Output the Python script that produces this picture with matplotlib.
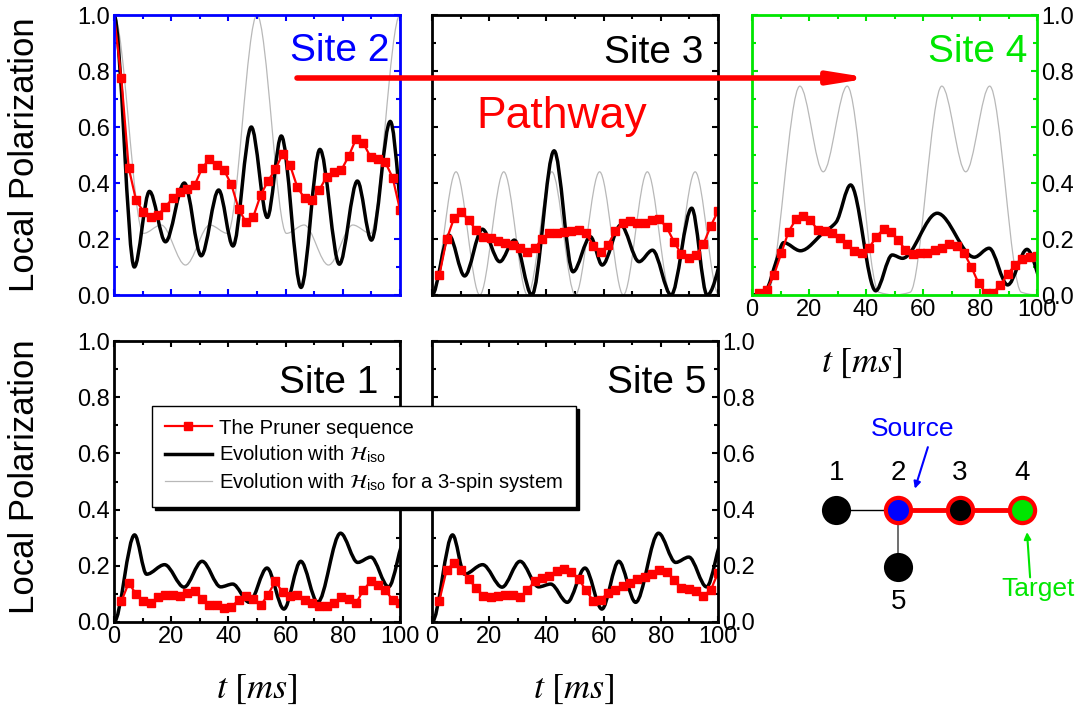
import numpy as np
import matplotlib
matplotlib.use('Agg')
import matplotlib.pyplot as plt
from matplotlib.path import Path
from matplotlib.patches import PathPatch, FancyArrowPatch
from matplotlib.lines import Line2D

plt.rcParams['font.family'] = ['Liberation Sans', 'DejaVu Sans']
plt.rcParams['mathtext.fontset'] = 'stix'

# ---- data ----
# Pruner sequence: 39 points, t = k*100/39
t_red = np.arange(1, 40) * 100 / 39
site2_red = [.774, .455, .339, .298, .277, .286, .315, .345, .369, .377, .393, .452, .486,
             .464, .446, .395, .307, .260, .280, .357, .407, .449, .504, .464, .385, .345,
             .339, .375, .423, .440, .446, .496, .557, .542, .492, .485, .474, .419, .304]
site3_red = [.071, .199, .274, .295, .268, .232, .208, .202, .194, .187, .179, .167, .155,
             .167, .199, .220, .223, .224, .229, .232, .220, .176, .152, .179, .229, .258,
             .264, .256, .256, .268, .270, .242, .190, .146, .133, .143, .181, .246, .300]
site4_red = [.006, .018, .071, .149, .226, .270, .282, .267, .232, .230, .220, .205, .181,
             .158, .149, .167, .208, .235, .226, .196, .161, .146, .149, .151, .161, .167,
             .181, .176, .151, .101, .042, .008, .008, .036, .075, .107, .129, .137, .139]
site1_red = [.073, .139, .100, .073, .067, .089, .097, .096, .094, .103, .109, .083, .062,
             .062, .050, .053, .079, .094, .082, .059, .097, .145, .105, .091, .097, .079,
             .067, .058, .056, .067, .089, .082, .067, .113, .145, .133, .115, .077, .067]
site5_red = [.076, .186, .210, .184, .153, .121, .094, .088, .091, .097, .097, .089, .113,
             .145, .157, .163, .181, .189, .177, .153, .113, .074, .080, .103, .115, .127,
             .139, .153, .160, .172, .184, .178, .151, .121, .118, .109, .094, .113, .175]

# Evolution with H_iso: turning points (t, value)
site2_black_t = [0, 7.1, 12.4, 18, 24.6, 30.5, 36.6, 41.6, 48, 53.6, 58.5, 65.4, 72, 78.8, 85.1, 90, 96.6, 102.5]
site2_black_y = [1.0, .10, .37, .19, .40, .14, .375, .175, .60, .277, .568, .027, .52, .11, .407, .196, .62, .15]
site3_black_t = [0, 5.9, 11.4, 17.6, 23.7, 28.8, 34.9, 42.7, 49.3, 55.4, 59.5, 66, 72.4, 77.1, 83.6, 90.8, 96.2, 107]
site3_black_y = [0, .214, .068, .235, .119, .196, 0, .515, .083, .208, .107, .25, .119, .16, 0, .31, 0, .32]
site4_black_t = [0, 5, 8.5, 11.1, 17, 25, 29.5, 34.6, 43.4, 49.2, 52.8, 65, 78, 83.2, 89.7, 96.5, 103]
site4_black_y = [0, .02, .12, .187, .158, .222, .26, .393, .015, .143, .131, .292, .135, .167, .036, .163, .02]
site15_black_t = [0, 7.2, 11.4, 17.7, 24.5, 30.8, 37.3, 41.5, 47.3, 53.5, 59.4, 65.3, 71.2, 79.2, 85.2, 89.8, 96, 102]
site15_black_y = [0, .31, .17, .204, .124, .216, .125, .135, .07, .192, .046, .216, .07, .316, .212, .231, .125, .30]

# Evolution with H_iso for a 3-spin system
site2_gray_t = [0, 10.3, 16.5, 25, 33.5, 39.7, 50, 60.3, 66.5, 75, 83.5, 89.7, 100, 110.3]
site2_gray_y = [1.0, .22, .25, .107, .25, .22, 1.0, .22, .25, .107, .25, .22, 1.0, .22]
site3_gray_t = [0, 8.4, 16.7, 25.1, 33.4, 41.9, 50.1, 58.6, 66.9, 75.3, 83.6, 92, 100.3]
site3_gray_y = [0, .44, 0, .44, 0, .44, 0, .44, 0, .44, 0, .44, 0]
site4_gray_t = [0, 5.5, 16.8, 25, 33.4, 44.5, 50, 55.5, 66.6, 75, 83.4, 94.5, 100]
site4_gray_y = [0, .01, .746, .44, .746, .01, 0, .01, .746, .44, .746, .01, 0]

x_ticks = [0, 20, 40, 60, 80, 100]
y_ticks = [0.0, 0.2, 0.4, 0.6, 0.8, 1.0]

W, H = 1088, 707
fig = plt.figure(figsize=(W / 100, H / 100), dpi=100)


def px_axes(l, t, r, b):
    return fig.add_axes([l / W, 1 - b / H, (r - l) / W, (b - t) / H])


def smooth_path(ts, ys):
    # monotone cubic through the read turning points, as bezier segments
    ts = np.asarray(ts, float)
    ys = np.asarray(ys, float)
    h = np.diff(ts)
    d = np.diff(ys) / h
    m = np.zeros_like(ys)
    for k in range(1, len(ys) - 1):
        if d[k - 1] * d[k] > 0:
            w1 = 2 * h[k] + h[k - 1]
            w2 = h[k] + 2 * h[k - 1]
            m[k] = (w1 + w2) / (w1 / d[k - 1] + w2 / d[k])
    verts = [(ts[0], ys[0])]
    codes = [Path.MOVETO]
    for k in range(len(h)):
        verts += [(ts[k] + h[k] / 3, ys[k] + m[k] * h[k] / 3),
                  (ts[k + 1] - h[k] / 3, ys[k + 1] - m[k + 1] * h[k] / 3),
                  (ts[k + 1], ys[k + 1])]
        codes += [Path.CURVE4] * 3
    return Path(verts, codes)


def curve(ax, ts, ys, color, lw, z):
    ax.add_patch(PathPatch(smooth_path(ts, ys), facecolor='none', edgecolor=color,
                           lw=lw, zorder=z, capstyle='round', joinstyle='round'))


def setup(ax, color, left=False, right=False, bottom=False):
    ax.set_xlim(0, 100)
    ax.set_ylim(0, 1.0)
    ax.set_xticks(x_ticks)
    ax.set_xticks(np.arange(10, 100, 20), minor=True)
    ax.set_yticks(y_ticks)
    ax.set_yticks(np.arange(0.1, 1.0, 0.2), minor=True)
    ax.set_yticklabels(['%.1f' % v for v in y_ticks])
    for s in ax.spines.values():
        s.set_color(color)
        s.set_linewidth(2.0)
        s.set_zorder(6)
    ax.tick_params(which='both', direction='in', top=True, right=True, color=color,
                   width=1.5, labelsize=17, pad=3, labelleft=left, labelright=right,
                   labelbottom=bottom)
    ax.tick_params(which='major', length=4.5)
    ax.tick_params(which='minor', length=2.8)


RED = '#ff0000'
GRAY = '#b8b8b8'
LIME = '#00e600'

ax2 = px_axes(114, 15, 400, 295)
ax3 = px_axes(432, 15, 718, 295)
ax4 = px_axes(752, 15, 1037, 295)
ax1 = px_axes(114, 341, 400, 622)
ax5 = px_axes(432, 341, 718, 622)

setup(ax2, 'blue', left=True)
setup(ax3, 'black')
setup(ax4, LIME, right=True, bottom=True)
setup(ax1, 'black', left=True, bottom=True)
setup(ax5, 'black', right=True, bottom=True)

curve(ax2, site2_gray_t, site2_gray_y, GRAY, 0.9, 2)
curve(ax3, site3_gray_t, site3_gray_y, GRAY, 0.9, 2)
curve(ax4, site4_gray_t, site4_gray_y, GRAY, 0.9, 2)

curve(ax2, site2_black_t, site2_black_y, 'black', 2.5, 3)
curve(ax3, site3_black_t, site3_black_y, 'black', 2.5, 3)
curve(ax4, site4_black_t, site4_black_y, 'black', 2.5, 3)
curve(ax1, site15_black_t, site15_black_y, 'black', 2.5, 3)
curve(ax5, site15_black_t, site15_black_y, 'black', 2.5, 3)

red_kw = dict(color=RED, lw=1.6, marker='s', ms=5.4, mec=RED, zorder=4)
ax2.plot(np.r_[0, t_red], np.r_[1.0, site2_red], markevery=slice(1, None), **red_kw)
ax3.plot(t_red, site3_red, **red_kw)
ax4.plot(t_red, site4_red, **red_kw)
ax1.plot(t_red, site1_red, **red_kw)
ax5.plot(t_red, site5_red, **red_kw)

site_kw = dict(fontsize=28, ha='right', va='baseline')
ax2.text(0.965, 0.836, 'Site 2', color='blue', transform=ax2.transAxes, **site_kw)
ax3.text(0.948, 0.829, 'Site 3', color='black', transform=ax3.transAxes, **site_kw)
ax4.text(0.965, 0.832, 'Site 4', color=LIME, transform=ax4.transAxes, **site_kw)
ax1.text(0.923, 0.815, 'Site 1', color='black', transform=ax1.transAxes, **site_kw)
ax5.text(0.958, 0.815, 'Site 5', color='black', transform=ax5.transAxes, **site_kw)

for y in (155, 477):
    fig.text(25 / W, 1 - y / H, 'Local Polarization', rotation=90, fontsize=25,
             ha='center', va='center')
for x, y in ((862, 363), (257, 688), (574, 688)):
    fig.text(x / W, 1 - y / H, r'$t\ [ms]$', fontsize=26, ha='center', va='center')

fig.text(562 / W, 1 - 128 / H, 'Pathway', color=RED, fontsize=32, ha='center',
         va='baseline')
arrow = FancyArrowPatch((297 / W, 1 - 78 / H), (871 / W, 1 - 78 / H),
                        transform=fig.transFigure, color=RED, lw=4,
                        arrowstyle='-|>,head_length=1.0,head_width=0.16',
                        mutation_scale=22, shrinkA=0, shrinkB=0, capstyle='round',
                        zorder=20)
fig.add_artist(arrow)

handles = [Line2D([], [], color=RED, lw=1.6, marker='s', ms=5.4),
           Line2D([], [], color='black', lw=2.5),
           Line2D([], [], color=GRAY, lw=0.9)]
labels = ['The Pruner sequence',
          r'Evolution with $\mathcal{H}_{\mathregular{iso}}$',
          r'Evolution with $\mathcal{H}_{\mathregular{iso}}$ for a 3-spin system']
leg = fig.legend(handles, labels, loc='upper left', bbox_to_anchor=(152 / W, 1 - 406 / H),
                 fontsize=14.6, frameon=True, fancybox=False, borderpad=0.62,
                 labelspacing=0.3, handlelength=2.35, handletextpad=0.35,
                 borderaxespad=0, shadow={'color': 'black', 'alpha': 1})
leg.get_frame().set_edgecolor('black')
leg.get_frame().set_linewidth(1.0)
leg.set_zorder(15)

# ---- spin chain sketch ----
dax = px_axes(799, 405, 1084, 622)
dax.set_xlim(-0.6, 4.0)
dax.set_ylim(-1.8, 1.7)
dax.axis('off')
node_x = [0, 1, 2, 3, 1]
node_y = [0, 0, 0, 0, -0.92]
node_fill = ['black', 'blue', 'black', LIME, 'black']
node_edge = ['black', RED, RED, RED, 'black']
dax.plot([node_x[0], node_x[1]], [node_y[0], node_y[1]], color='black', lw=1.0, zorder=1)
dax.plot([node_x[1], node_x[4]], [node_y[1], node_y[4]], color='#555555', lw=1.2, zorder=1)
dax.plot(node_x[1:4], node_y[1:4], color=RED, lw=3.5, zorder=1)
for i in range(5):
    s = 440 if node_edge[i] == 'black' else 330
    dax.scatter(node_x[i], node_y[i], s=s, c=node_fill[i], edgecolors=node_edge[i],
                linewidths=3 if node_edge[i] == RED else 0, zorder=3)
for i in range(4):
    dax.text(node_x[i], 0.61, str(i + 1), fontsize=20, ha='center', va='center')
dax.text(node_x[4], -1.48, '5', fontsize=20, ha='center', va='center')
dax.text(1.24, 1.32, 'Source', color='blue', fontsize=19, ha='center', va='center')
dax.annotate('', xy=(1.27, 0.35), xytext=(1.48, 1.02),
             arrowprops=dict(arrowstyle='-|>', color='blue', lw=1.5, mutation_scale=10,
                             shrinkA=0, shrinkB=0))
dax.text(3.26, -1.27, 'Target', color=LIME, fontsize=19, ha='center', va='center')
dax.annotate('', xy=(3.08, -0.35), xytext=(3.13, -1.08),
             arrowprops=dict(arrowstyle='-|>', color=LIME, lw=1.5, mutation_scale=10,
                             shrinkA=0, shrinkB=0))

fig.savefig('out.png', dpi=100)
